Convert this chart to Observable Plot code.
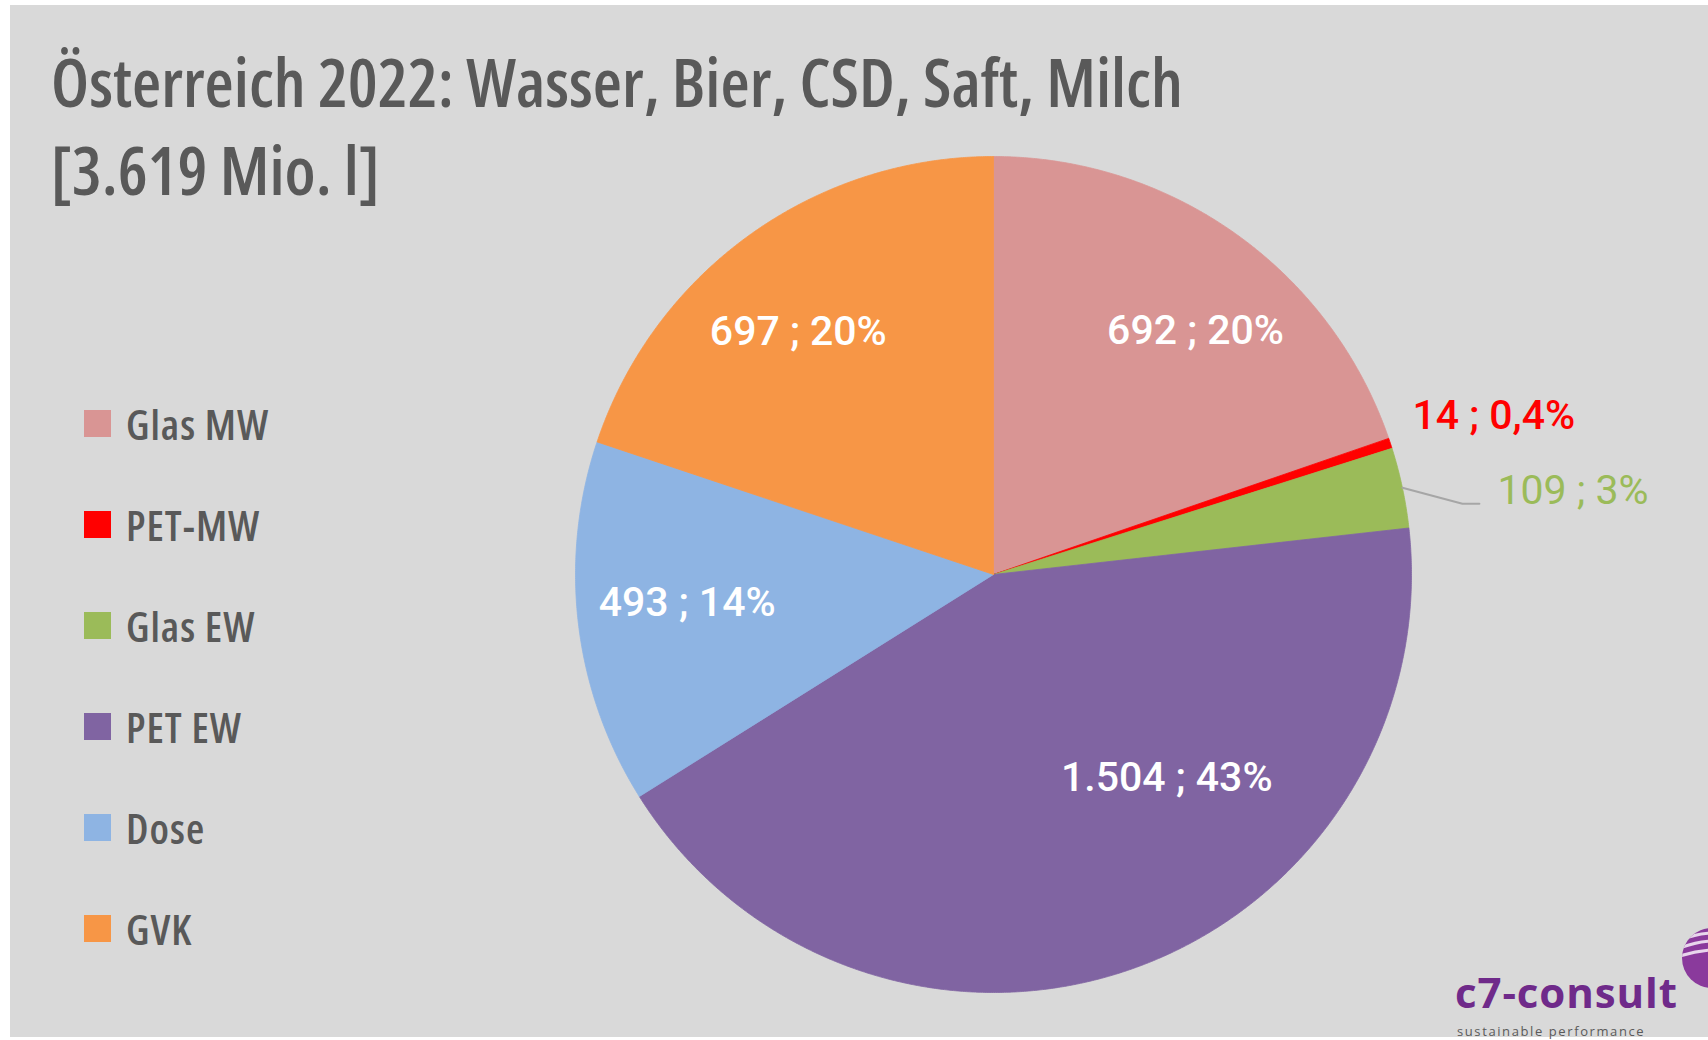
<!DOCTYPE html>
<html><head><meta charset="utf-8">
<script src="https://cdn.jsdelivr.net/npm/d3@7"></script>
<script src="https://cdn.jsdelivr.net/npm/@observablehq/plot@0.6"></script>
<style>
html,body{margin:0;padding:0;background:#fff;}
#wrap{position:relative;width:1708px;height:1040px;overflow:hidden;}
#bg{position:absolute;left:10px;top:5px;width:1698px;height:1032px;background:#d9d9d9;}
#chart{position:absolute;left:0;top:0;}
#title{position:absolute;left:51px;top:37px;font-family:"Open Sans";font-weight:600;font-stretch:75%;font-size:67px;color:#595959;line-height:88px;white-space:nowrap;}
#legend{position:absolute;left:84px;top:373px;}
.lg-swatch{height:101px;padding-bottom:0 !important;}
.lg-swatch > svg{margin-right:15px !important;}
#logo{position:absolute;left:1455px;top:967px;font-family:"Open Sans";font-weight:700;font-size:42px;color:#6f2a8a;letter-spacing:0.9px;line-height:50px;}
#tag{position:absolute;left:1457px;top:1022px;font-family:"Open Sans";font-size:13px;color:#5a5a5a;letter-spacing:1.6px;}
#emblem{position:absolute;left:1680px;top:926px;}
</style></head>
<body>
<div id="wrap">
  <div id="bg"></div>
  <div id="chart"></div>
  <div id="title"></div>
  <div id="legend"></div>
  <div id="logo">c7-consult</div>
  <div id="tag">sustainable performance</div>
  <svg id="emblem" width="60" height="64"><defs><clipPath id="cc"><circle cx="32" cy="32" r="30"/></clipPath></defs>
    <circle cx="32" cy="32" r="30" fill="#8a3a9c"/>
    <g clip-path="url(#cc)" stroke="#e8d6ec" stroke-width="3" fill="none">
      <path d="M0 14 Q30 2 62 10"/><path d="M0 22 Q30 10 62 18"/><path d="M0 30 Q30 20 62 26"/>
    </g>
  </svg>
</div>
<script>
const titleLines = ["Österreich 2022: Wasser, Bier, CSD, Saft, Milch", "[3.619 Mio. l]"];
const categories = ["Glas MW", "PET-MW", "Glas EW", "PET EW", "Dose", "GVK"];
const values = [692, 14, 109, 1504, 493, 697];
const colors = ["#D99594", "#FF0000", "#9BBB59", "#8064A2", "#8EB4E3", "#F79646"];

// label styling/placement (not data)
const labelStyle = {
  "Glas MW": {outside: false, dx: 20, dy: 12},
  "PET-MW": {outside: true, dx: 22, dy: -27, fill: "#FF0000", weight: 500},
  "Glas EW": {outside: true, dx: 95, dy: 3, fill: "#9BBB59", weight: 400, leader: true},
  "PET EW": {outside: false, dx: 70, dy: -93},
  "Dose": {outside: false, dx: 5, dy: -9},
  "GVK": {outside: false, dx: -12, dy: 12}
};

document.getElementById("title").innerHTML = titleLines.map(t => `<div>${t}</div>`).join("");

const de = d3.formatLocale({decimal: ",", thousands: ".", grouping: [3], currency: ["", "€"]});
const total = d3.sum(values);
const fmtV = de.format(",");
const fmtP = p => p < 1 ? de.format(".1f")(p) + "%" : de.format(".0f")(p) + "%";

const pie = d3.pie().sort(null).value(d => d.value)(categories.map((c, i) => ({cat: c, value: values[i], color: colors[i]})));

const slices = pie.map(s => {
  const n = Math.max(2, Math.ceil((s.endAngle - s.startAngle) / (Math.PI / 720)));
  const pts = [{x: 0, y: 0}];
  for (let k = 0; k <= n; k++) {
    const a = s.startAngle + (s.endAngle - s.startAngle) * k / n;
    pts.push({x: Math.sin(a), y: Math.cos(a)});
  }
  pts.push({x: 0, y: 0});
  return {cat: s.data.cat, color: s.data.color, pts};
});

const labels = pie.map(s => {
  const st = labelStyle[s.data.cat];
  const mid = (s.startAngle + s.endAngle) / 2;
  const r = st.outside ? 1 : 0.75;
  return {cat: s.data.cat, x: r * Math.sin(mid), y: r * Math.cos(mid), mid,
    text: fmtV(s.data.value) + " ; " + fmtP(s.data.value / total * 100), st};
});

const R = 418; // px per unit radius
const marks = [];
slices.forEach(s => marks.push(Plot.line(s.pts, {x: "x", y: "y", fill: s.color, stroke: s.color, strokeWidth: 0.8, curve: "linear"})));

labels.filter(l => l.st.leader).forEach(l => {
  const e = {x: Math.sin(l.mid), y: Math.cos(l.mid)};
  const pts = [e, {x: e.x + 60 / R, y: e.y - 16 / R}, {x: e.x + 77 / R, y: e.y - 16 / R}];
  marks.push(Plot.line(pts, {x: "x", y: "y", stroke: "#A6A6A6", strokeWidth: 2}));
});

labels.forEach(l => {
  if (l.st.outside) {
    marks.push(Plot.text([l], {x: "x", y: "y", text: "text", dx: l.st.dx, dy: l.st.dy, textAnchor: "start",
      fill: l.st.fill, fontFamily: "Roboto", fontSize: 41, fontWeight: l.st.weight}));
  } else {
    marks.push(Plot.text([l], {x: "x", y: "y", text: "text", dx: l.st.dx, dy: l.st.dy, textAnchor: "middle",
      fill: "white", fontFamily: "Roboto", fontSize: 41, fontWeight: 500}));
  }
});

const chart = Plot.plot({
  width: 1708, height: 1040,
  x: {domain: [-1, 1], range: [993 - R, 993 + R]},
  y: {domain: [-1, 1], range: [574 + R, 574 - R]},
  axis: null,
  style: {background: "transparent", overflow: "visible"},
  marks
});
document.getElementById("chart").appendChild(chart);

const leg = Plot.legend({
  color: {type: "ordinal", domain: categories, range: colors},
  columns: 1, swatchSize: 27, className: "lg",
  style: {fontFamily: "Open Sans", fontWeight: 600, fontStretch: "75%", fontSize: "42px", letterSpacing: "1px", color: "#595959", background: "transparent"}
});
document.getElementById("legend").appendChild(leg);
</script>
</body></html>
